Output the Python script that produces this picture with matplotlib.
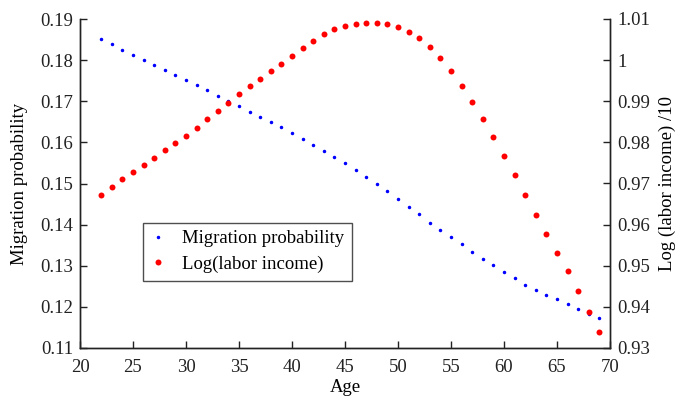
import numpy as np
import matplotlib.pyplot as plt

plt.rcParams['font.family'] = ['Liberation Serif', 'DejaVu Serif']

ages = list(range(22, 70))

migration_prob = [
    0.1851, 0.1838, 0.1825, 0.1813, 0.1800, 0.1787, 0.1775, 0.1763, 0.1751,
    0.1739, 0.1727, 0.1713, 0.1701, 0.1688, 0.1675, 0.1662, 0.1649, 0.1637,
    0.1623, 0.1609, 0.1594, 0.1580, 0.1565, 0.1549, 0.1534, 0.1516, 0.1499,
    0.1481, 0.1462, 0.1444, 0.1426, 0.1405, 0.1387, 0.1369, 0.1352, 0.1333,
    0.1317, 0.1301, 0.1285, 0.1269, 0.1254, 0.1242, 0.1229, 0.1218, 0.1206,
    0.1194, 0.1183, 0.1174,
]

log_income = [
    0.9672, 0.9692, 0.9710, 0.9728, 0.9746, 0.9763, 0.9781, 0.9798, 0.9816,
    0.9835, 0.9856, 0.9876, 0.9896, 0.9917, 0.9936, 0.9954, 0.9973, 0.9991,
    1.0009, 1.0029, 1.0046, 1.0063, 1.0075, 1.0083, 1.0088, 1.0090, 1.0090,
    1.0087, 1.0081, 1.0069, 1.0053, 1.0032, 1.0005, 0.9973, 0.9936, 0.9898,
    0.9857, 0.9813, 0.9767, 0.9721, 0.9673, 0.9624, 0.9578, 0.9532, 0.9487,
    0.9438, 0.9388, 0.9340,
]

left_ticks = [0.11, 0.12, 0.13, 0.14, 0.15, 0.16, 0.17, 0.18, 0.19]
right_ticks = [0.93, 0.94, 0.95, 0.96, 0.97, 0.98, 0.99, 1.00, 1.01]
right_labels = ['0.93', '0.94', '0.95', '0.96', '0.97', '0.98', '0.99', '1', '1.01']
x_ticks = [20, 25, 30, 35, 40, 45, 50, 55, 60, 65, 70]

fs = 13.5

fig = plt.figure(figsize=(6.85, 3.97), dpi=100)
ax = fig.add_axes([80 / 685, 1 - 348 / 397, 530 / 685, 329 / 397])
ax2 = ax.twinx()

l1, = ax.plot(ages, migration_prob, linestyle='none', marker='.', markersize=3,
              color='blue', label='Migration probability')
l2, = ax2.plot(ages, log_income, linestyle='none', marker='o', markersize=4.3,
               color='red', markeredgewidth=0, label='Log(labor income)')

ax.set_xlim(20, 70)
ax.set_ylim(0.11, 0.19)
ax2.set_ylim(0.93, 1.01)
ax.set_xticks(x_ticks)
ax.set_yticks(left_ticks)
ax.set_yticklabels([('%.2f' % v) for v in left_ticks])
ax2.set_yticks(right_ticks)
ax2.set_yticklabels(right_labels)

for a in (ax, ax2):
    a.spines['top'].set_visible(False)
    for s in ('left', 'right', 'bottom'):
        a.spines[s].set_linewidth(1.0)
        a.spines[s].set_color('#222222')
    a.tick_params(direction='in', length=5, width=1, labelsize=fs, colors='#222222', pad=5)
ax.tick_params(axis='x', pad=8)

ax.set_xlabel('Age', fontsize=fs)
ax.xaxis.set_label_coords(0.5, -0.095)
ax.set_ylabel('Migration probability', fontsize=fs)
ax.yaxis.set_label_coords(-0.098, 0.5)
ax2.set_ylabel('Log (labor income) /10', fontsize=fs)
ax2.yaxis.set_label_coords(1.092, 0.5)

leg = ax.legend(handles=[l1, l2], loc='lower left', bbox_to_anchor=(0.118, 0.205),
                borderaxespad=0, fontsize=fs, frameon=True, fancybox=False,
                edgecolor='#222222', handlelength=0.8, handletextpad=0.9,
                borderpad=0.4, labelspacing=0.45, markerscale=1.0)
leg.get_frame().set_linewidth(1.0)

fig.savefig('out.png', dpi=100)
